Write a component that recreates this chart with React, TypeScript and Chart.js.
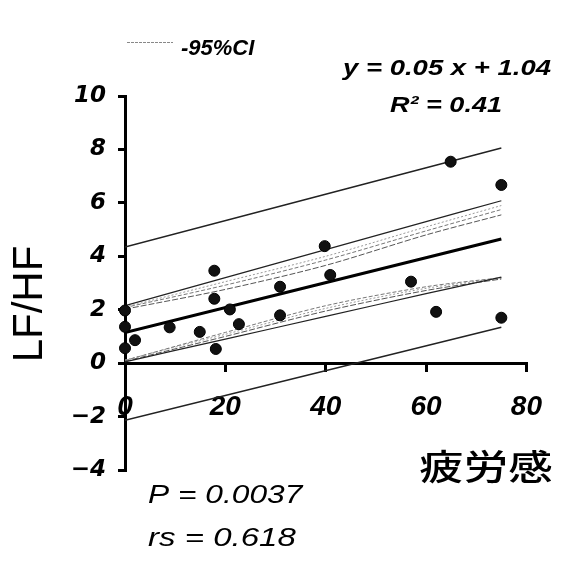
import React, { useEffect, useRef } from "react";
import { Chart, registerables } from "chart.js";

Chart.register(...registerables);

// ---- data ----
const pointsX = [0, 0, 0, 2.0, 8.9, 14.9, 17.8, 17.8, 18.1, 20.9, 22.7, 30.9, 30.9, 39.8, 40.9, 57.0, 62.0, 64.9, 75.0, 75.0];
const pointsY = [1.97, 1.36, 0.56, 0.86, 1.34, 1.17, 3.46, 2.41, 0.53, 2.01, 1.46, 2.86, 1.79, 4.38, 3.3, 3.05, 1.92, 7.54, 6.67, 1.7];

const fitX = [0, 75];
const fitY = [1.15, 4.65];

const bandX = [0, 20, 40, 60, 75];
const ciUpperA = [2.15, 3.2, 4.25, 5.3, 6.08];
const ciUpperB = [2.08, 2.92, 3.86, 4.95, 5.75];
const ciUpperC = [2.02, 2.76, 3.66, 4.8, 5.55];
const ciUpperD = [2.1, 3.05, 4.0, 5.1, 5.9];
const ciLowerA = [0.05, 0.9, 1.75, 2.6, 3.22];
const ciLowerB = [0.1, 1.15, 2.15, 2.86, 3.2];
const ciLowerC = [0.07, 1.0, 1.95, 2.72, 3.15];
const ciLowerD = [0.12, 1.08, 2.05, 2.8, 3.18];

const predX = [0, 75];
const predUpper = [4.35, 8.05];
const predLower = [-2.14, 1.34];

const xTickValues = [0, 20, 40, 60, 80];
const xTickLabels = ["0", "20", "40", "60", "80"];
const yTickValues = [-4, -2, 0, 2, 4, 6, 8, 10];
const yTickLabels = ["\u22124", "\u22122", "0", "2", "4", "6", "8", "10"];

const legendLabel = "-95%CI";
const equationText = "y = 0.05 x + 1.04";
const r2Text = "R\u00B2 = 0.41";
const pText = "P = 0.0037";
const rsText = "rs = 0.618";
const yTitle = "LF/HF";
const xTitle = "疲労感";

const toPts = (xs: number[], ys: number[]) => xs.map((x, i) => ({ x, y: ys[i] }));

const annotationPlugin = {
  id: "annotations",
  afterDraw(chart: any) {
    const ctx = chart.ctx as CanvasRenderingContext2D;
    const drawText = (
      text: string,
      x: number,
      y: number,
      font: string,
      align: CanvasTextAlign,
      sx: number,
      baseline: CanvasTextBaseline = "alphabetic",
      rot = 0
    ) => {
      ctx.save();
      ctx.translate(x, y);
      if (rot) ctx.rotate(rot);
      ctx.scale(sx, 1);
      ctx.font = font;
      ctx.textAlign = align;
      ctx.textBaseline = baseline;
      ctx.fillStyle = "#000";
      ctx.fillText(text, 0, 0);
      ctx.restore();
    };
    // legend sample line
    ctx.save();
    ctx.strokeStyle = "#888";
    ctx.lineWidth = 1;
    ctx.setLineDash([3, 1]);
    ctx.beginPath();
    ctx.moveTo(127, 42.5);
    ctx.lineTo(173, 42.5);
    ctx.stroke();
    ctx.restore();

    const sans = "'Liberation Sans', Arial, sans-serif";
    drawText(legendLabel, 181, 55, `italic bold 22px ${sans}`, "left", 1.0);
    drawText(equationText, 551, 75, `italic bold 22px ${sans}`, "right", 1.25);
    drawText(r2Text, 446, 112, `italic bold 22px ${sans}`, "center", 1.23);
    drawText(pText, 148, 503, `italic 26px ${sans}`, "left", 1.22);
    drawText(rsText, 148, 546, `italic 26px ${sans}`, "left", 1.27);
    drawText(yTitle, 30, 304, `42px ${sans}`, "center", 1, "middle", -Math.PI / 2);
    drawText(xTitle, 486, 467, `500 35px 'Noto Sans CJK JP', sans-serif`, "center", 1.27, "middle");
  },
};

export default function App() {
  const canvasRef = useRef<HTMLCanvasElement | null>(null);

  useEffect(() => {
    if (!canvasRef.current) return;
    const thinLine = (data: any, color: string, width: number, dash: number[] = []) => ({
      data,
      showLine: true,
      borderColor: color,
      borderWidth: width,
      borderDash: dash,
      pointRadius: 0,
      fill: false,
      tension: 0.3,
    });
    const chart = new Chart(canvasRef.current, {
      type: "scatter",
      data: {
        datasets: [
          {
            label: "data",
            data: toPts(pointsX, pointsY),
            pointRadius: 5.5,
            pointBackgroundColor: "#111",
            pointBorderColor: "#000",
            pointBorderWidth: 1,
            clip: false as any,
          },
          { ...thinLine(toPts(fitX, fitY), "#000", 3), label: "fit" },
          { ...thinLine(toPts(bandX, ciUpperA), "#222", 1.2), label: "ciU1" },
          { ...thinLine(toPts(bandX, ciUpperB), "#777", 1, [4, 2]), label: "ciU2" },
          { ...thinLine(toPts(bandX, ciUpperC), "#555", 1, [6, 2]), label: "ciU3" },
          { ...thinLine(toPts(bandX, ciUpperD), "#999", 1, [2, 2]), label: "ciU4" },
          { ...thinLine(toPts(bandX, ciLowerA), "#222", 1.2), label: "ciL1" },
          { ...thinLine(toPts(bandX, ciLowerB), "#777", 1, [4, 2]), label: "ciL2" },
          { ...thinLine(toPts(bandX, ciLowerC), "#555", 1, [6, 2]), label: "ciL3" },
          { ...thinLine(toPts(bandX, ciLowerD), "#999", 1, [2, 2]), label: "ciL4" },
          { ...thinLine(toPts(predX, predUpper), "#222", 1.5), label: legendLabel },
          { ...thinLine(toPts(predX, predLower), "#222", 1.5), label: "pred-" },
        ],
      },
      options: {
        animation: false,
        responsive: false,
        events: [],
        layout: { padding: { left: 0, top: 96, right: 22, bottom: 93 } },
        plugins: { legend: { display: false }, tooltip: { enabled: false } },
        scales: {
          x: {
            type: "linear",
            position: { y: 0 } as any,
            min: 0,
            max: 80,
            afterFit: (s: any) => {
              s.height = 0;
            },
            afterBuildTicks: (s: any) => {
              s.ticks = xTickValues.map((v) => ({ value: v }));
            },
            ticks: {
              color: "#000",
              padding: 20,
              maxRotation: 0,
              autoSkip: false,
              font: { family: "'Liberation Sans', Arial, sans-serif", size: 28, style: "italic", weight: "bold" },
              callback: (v: any) => xTickLabels[xTickValues.indexOf(Number(v))] ?? "",
            },
            grid: { drawOnChartArea: false, drawTicks: true, tickLength: 7, color: "#000", lineWidth: 3 },
            border: { display: true, color: "#000", width: 3 },
          },
          y: {
            type: "linear",
            position: "left",
            min: -4,
            max: 10,
            afterFit: (s: any) => {
              s.width = 125;
            },
            afterBuildTicks: (s: any) => {
              s.ticks = yTickValues.map((v) => ({ value: v }));
            },
            ticks: {
              color: "#000",
              padding: 12,
              autoSkip: false,
              font: { family: "'DejaVu Sans', sans-serif", size: 23, style: "italic", weight: "bold" },
              callback: (v: any) => yTickLabels[yTickValues.indexOf(Number(v))] ?? "",
            },
            grid: { drawOnChartArea: false, drawTicks: true, tickLength: 7, color: "#000", lineWidth: 3 },
            border: { display: true, color: "#000", width: 3 },
          },
        },
      } as any,
      plugins: [annotationPlugin],
    });
    return () => chart.destroy();
  }, []);

  return (
    <div style={{ position: "absolute", left: 0, top: 0, width: 562, height: 563, background: "#fff" }}>
      <canvas ref={canvasRef} width={562} height={563} style={{ display: "block", width: 562, height: 563 }} />
    </div>
  );
}
